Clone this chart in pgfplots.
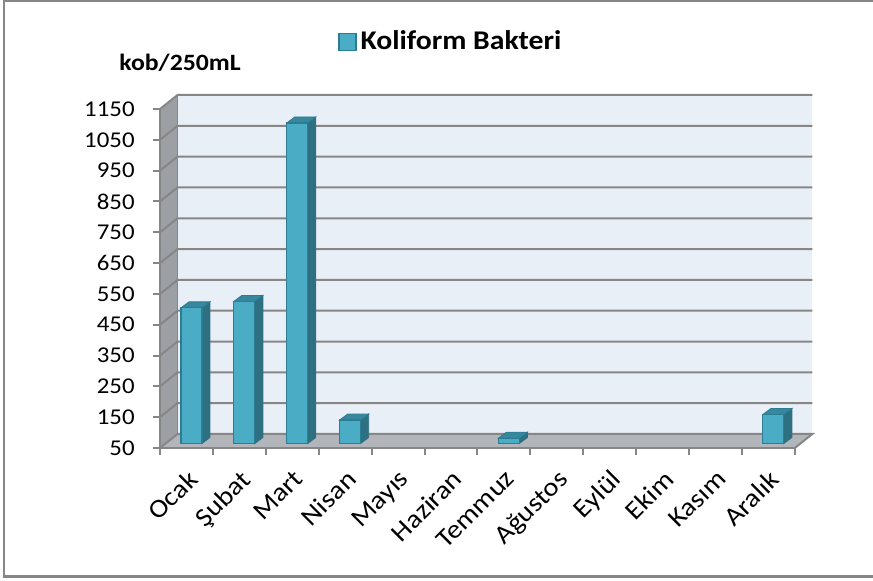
\documentclass[border=0pt]{standalone}
\usepackage{fontspec}
\setmainfont{Carlito}[FakeStretch=1.1]
\usepackage{pgfplots}
\pgfplotsset{compat=1.18}
\definecolor{wallback}{RGB}{233,239,247}
\definecolor{wallleft}{RGB}{156,159,164}
\definecolor{floorc}{RGB}{178,182,186}
\definecolor{gridc}{RGB}{134,134,134}
\definecolor{barfront}{RGB}{75,172,198}
\definecolor{baredge}{RGB}{45,125,146}
\definecolor{barside}{RGB}{46,112,130}
\definecolor{bartop}{RGB}{55,135,158}
\pgfdeclareplotmark{nothing}{}
\begin{document}
\begin{tikzpicture}
\begin{scope}[x=0.5pt,y=0.5pt]
\useasboundingbox (0,0) rectangle (873,581);
% outer frame
\draw[gridc, line width=1.2pt] (900,580) -- (4,580) -- (4,4.5) -- (900,4.5);
% 3D walls (decoration)
\fill[wallback] (177.5,147) rectangle (812.3,486);
\fill[wallleft] (160,133) -- (177.5,147) -- (177.5,486) -- (160,472) -- cycle;
\fill[floorc] (160,133) -- (794.8,133) -- (812.3,147) -- (177.5,147) -- cycle;
\foreach \v in {150,250,...,1150}{
  \pgfmathsetmacro\yy{133+(\v-50)*0.308182}
  \draw[gridc, line width=1pt] (160,\yy) -- (177.5,\yy+14) -- (812.3,\yy+14);
}
\draw[gridc, line width=1pt] (160,133) -- (177.5,147) -- (812.3,147) -- (794.8,133);
\draw[gridc, line width=0.8pt] (177.5,147) -- (177.5,486);
\node[anchor=west, inner sep=0pt, font=\bfseries\fontsize{11.7}{13}\selectfont] at (119,518) {kob/250mL};
\end{scope}
\begin{axis}[
  at={(80pt,66.5pt)}, anchor=south west,
  width=317.4pt, height=169.5pt, scale only axis,
  xmin=0, xmax=12, ymin=50, ymax=1150,
  clip=false,
  axis x line*=bottom, axis y line*=left,
  axis line style={-, draw=gridc, line width=1pt},
  tick align=outside, major tick length=3.5pt,
  tick style={draw=gridc, line width=1pt},
  ytick={50,150,...,1150},
  xtick={0,1,...,12}, xticklabels={},
  extra x ticks={0.5,1.5,...,11.5},
  extra x tick labels={Ocak,Şubat,Mart,Nisan,Mayıs,Haziran,Temmuz,Ağustos,Eylül,Ekim,Kasım,Aralık},
  extra x tick style={major tick length=0pt, tick style={draw=none},
    tick label style={font=\fontsize{13}{15}\selectfont, inner sep=0pt, xshift=0pt, yshift=-10pt, rotate=45, anchor=north east}},
  yticklabel style={font=\fontsize{11.3}{13}\selectfont, inner sep=0pt, anchor=east, xshift=-9pt},
  /pgf/number format/assume math mode=true,
  /pgf/number format/1000 sep={},
  legend style={at={(0.2804,1.1976)}, anchor=west, draw=none, fill=none,
    font=\bfseries\fontsize{13.5}{15}\selectfont, inner sep=0pt},
  legend cell align=left,
]
\addplot[scatter, only marks, mark=nothing,
  visualization depends on={rawy \as \ry},
  scatter/@pre marker code/.code={%
    \pgfkeys{/pgf/fpu=false}%
    \pgfmathsetmacro\yb{2.25-(\ry-50)*0.154091}%
    \pgfmathsetmacro\ybs{\yb+3}%
    \fill[barside] (7.75pt,2.25pt) -- (11.75pt,5.25pt) -- (11.75pt,\ybs pt) -- (7.75pt,\yb pt) -- cycle;
    \fill[bartop, draw=baredge, line width=0.4pt] (-2.75pt,2.25pt) -- (7.75pt,2.25pt) -- (11.75pt,5.25pt) -- (1.25pt,5.25pt) -- cycle;
    \filldraw[fill=barfront, draw=baredge, line width=0.6pt] (-2.75pt,\yb pt) rectangle (7.75pt,2.25pt);
  },
  scatter/@post marker code/.code={},
  legend image code/.code={\filldraw[fill=barfront, draw=baredge, line width=0.6pt] (0pt,-4.25pt) rectangle (8.5pt,4.25pt);},
] coordinates {
  (0.5,490) (1.5,511) (2.5,1090) (3.5,126) (6.5,67) (11.5,144)
};
\addlegendentry{Koliform Bakteri}
\end{axis}
\end{tikzpicture}
\end{document}
